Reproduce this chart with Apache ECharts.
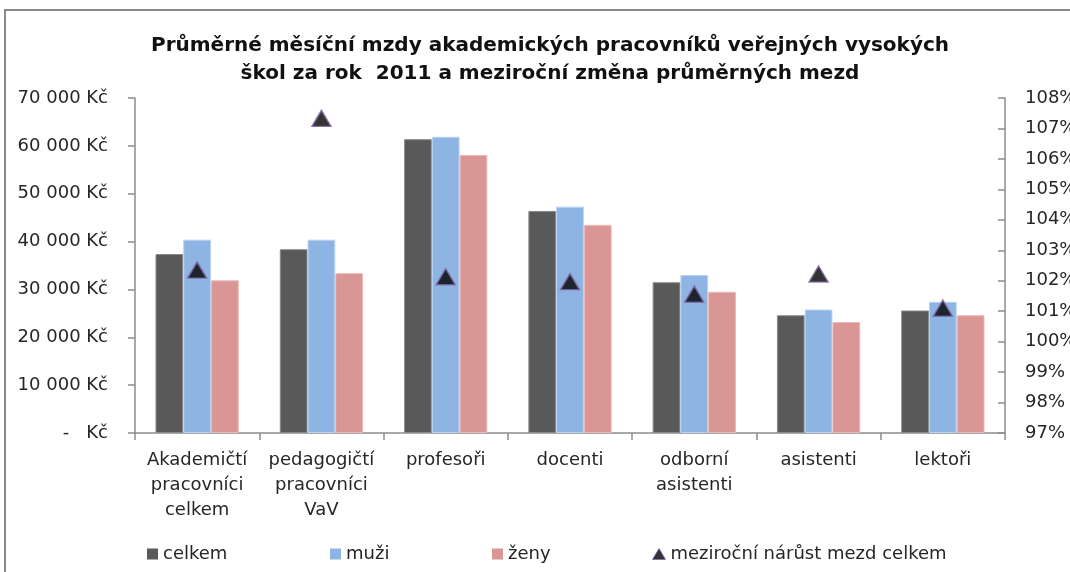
<!DOCTYPE html>
<html>
<head>
<meta charset="utf-8">
<script src="https://cdn.jsdelivr.net/npm/echarts@6/dist/echarts.min.js"></script>
<style>
  html, body { margin: 0; padding: 0; background: #fff; }
  #chart { width: 1070px; height: 572px; }
</style>
</head>
<body>
<div id="chart"></div>
<script>
const categories = ['Akademičtí\npracovníci\ncelkem', 'pedagogičtí\npracovníci\nVaV', 'profesoři', 'docenti', 'odborní\nasistenti', 'asistenti', 'lektoři']
const celkem = [37400, 38400, 61400, 46400, 31500, 24600, 25600]
const muzi = [40400, 40400, 61900, 47300, 33000, 25800, 27400]
const zeny = [31900, 33400, 58100, 43500, 29500, 23200, 24600]
const narust = [102.35, 107.33, 102.13, 101.97, 101.56, 102.22, 101.1]

const FONT = 'DejaVu Sans'
const axisColor = '#8c8c8c'
const textColor = '#262626'

const chart = echarts.init(document.getElementById('chart'))

function kc(v) {
  if (v === 0) return '-   Kč'
  return String(v).replace(/\B(?=(\d{3})+(?!\d))/g, ' ') + ' Kč'
}

const legendBase = {
  top: 540,
  itemWidth: 11,
  itemHeight: 11,
  itemGap: 6,
  textStyle: { fontFamily: FONT, fontSize: 18, color: textColor }
}
const flatIcon = { borderWidth: 0 }

const option = {
  animation: false,
  title: {
    text: 'Průměrné měsíční mzdy akademických pracovníků veřejných vysokých\nškol za rok  2011 a meziroční změna průměrných mezd',
    left: 545,
    top: 27,
    textAlign: 'center',
    textStyle: { fontFamily: FONT, fontSize: 20, fontWeight: 'bold', color: '#111', lineHeight: 28 }
  },
  graphic: [{
    type: 'rect',
    shape: { x: 5, y: 10, width: 1080, height: 580 },
    style: { fill: 'none', stroke: '#888', lineWidth: 2 },
    silent: true
  }],
  legend: [
    Object.assign({ left: 142, data: [{ name: 'celkem', icon: 'rect', itemStyle: flatIcon }] }, legendBase),
    Object.assign({ left: 325, data: [{ name: 'muži', icon: 'rect', itemStyle: flatIcon }] }, legendBase),
    Object.assign({ left: 487, data: [{ name: 'ženy', icon: 'rect', itemStyle: flatIcon }] }, legendBase),
    Object.assign({ left: 647, data: [{ name: 'meziroční nárůst mezd celkem', icon: 'triangle', itemStyle: { borderWidth: 1 } }] }, legendBase, { itemWidth: 13 })
  ],
  grid: { left: 135, right: 65, top: 98, bottom: 139, outerBoundsMode: 'none', containLabel: false },
  xAxis: {
    type: 'category',
    data: categories,
    boundaryGap: true,
    axisLine: { lineStyle: { color: axisColor, width: 1.5 } },
    axisTick: { show: true, length: 7, lineStyle: { color: axisColor, width: 1.5 } },
    axisLabel: { fontFamily: FONT, fontSize: 18, color: textColor, lineHeight: 25, margin: 15, interval: 0 },
    splitLine: { show: false }
  },
  yAxis: [{
    type: 'value',
    min: 0,
    max: 70000,
    interval: 10000,
    axisLine: { show: true, lineStyle: { color: axisColor, width: 1.5 } },
    axisTick: { show: true, length: 7, lineStyle: { color: axisColor, width: 1.5 } },
    axisLabel: { fontFamily: FONT, fontSize: 18, color: textColor, margin: 27, formatter: kc },
    splitLine: { show: false }
  }, {
    type: 'value',
    position: 'right',
    min: 97,
    max: 108,
    interval: 1,
    axisLine: { show: true, lineStyle: { color: axisColor, width: 1.5 } },
    axisTick: { show: true, inside: true, length: 7, lineStyle: { color: axisColor, width: 1.5 } },
    axisLabel: { fontFamily: FONT, fontSize: 18, color: textColor, margin: 20, formatter: v => v + '%' },
    splitLine: { show: false }
  }],
  series: [{
    name: 'celkem',
    type: 'bar',
    data: celkem,
    barGap: '0%',
    barCategoryGap: '33%',
    itemStyle: { color: '#595959', borderColor: '#8a8a8a', borderWidth: 1 }
  }, {
    name: 'muži',
    type: 'bar',
    data: muzi,
    itemStyle: { color: '#8eb4e3', borderColor: '#b9d3f3', borderWidth: 1 }
  }, {
    name: 'ženy',
    type: 'bar',
    data: zeny,
    itemStyle: { color: '#d99694', borderColor: '#ebb9b8', borderWidth: 1 }
  }, {
    name: 'meziroční nárůst mezd celkem',
    type: 'scatter',
    yAxisIndex: 1,
    data: narust,
    symbol: 'triangle',
    symbolSize: [19, 16],
    itemStyle: { color: '#000', borderColor: '#8064a2', borderWidth: 1.5 },
    z: 5
  }]
}

chart.setOption(option)
</script>
</body>
</html>
